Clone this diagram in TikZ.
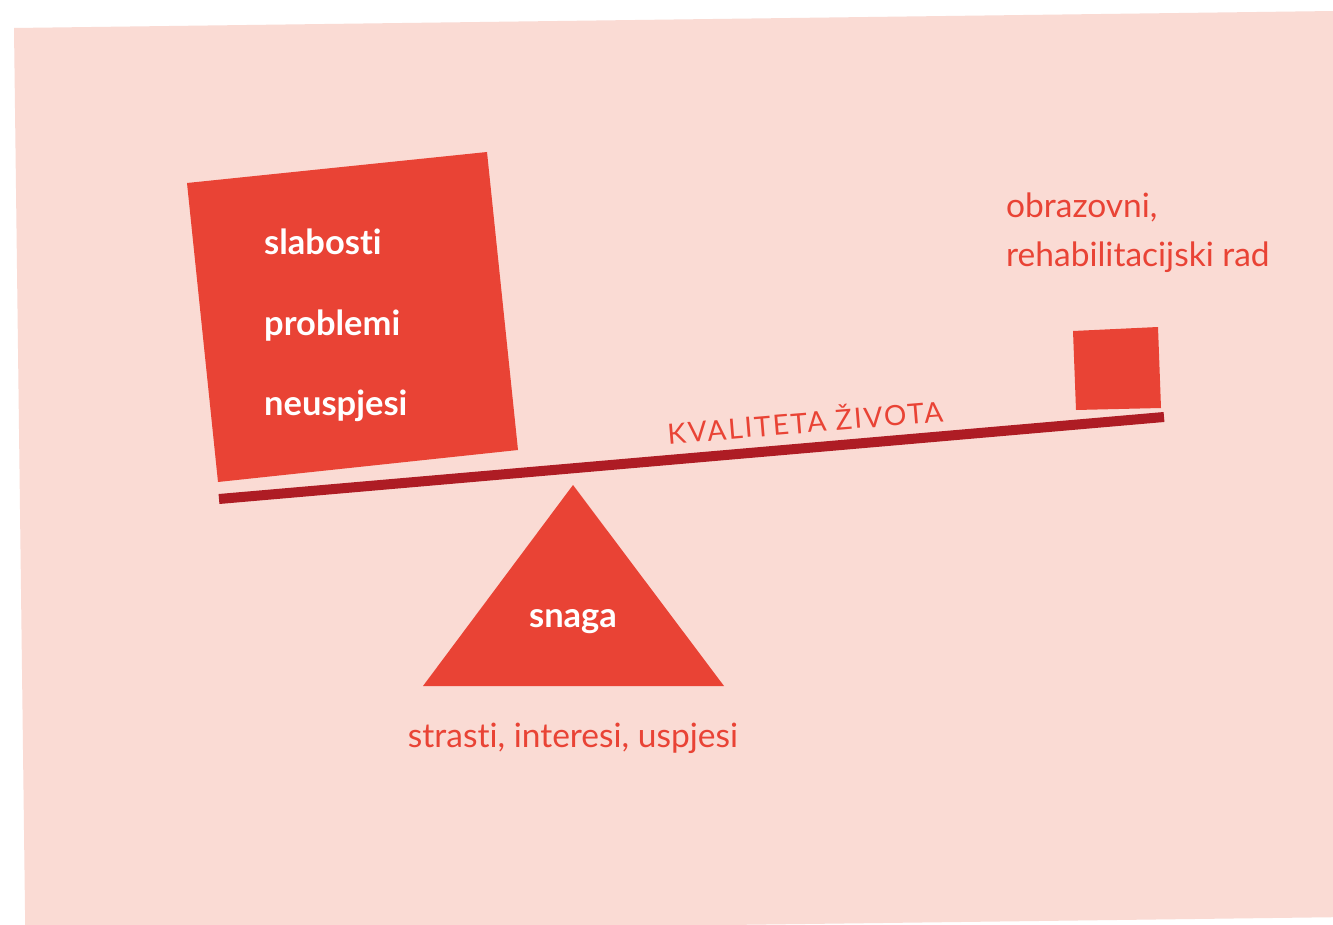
\documentclass[tikz,border=0pt]{standalone}
\usepackage{fontspec}
\setmainfont{Lato}[Ligatures=NoCommon]
\usepackage{tikz}
\definecolor{Blush}{RGB}{250,219,212}
\definecolor{Tomato}{RGB}{233,67,53}
\definecolor{Beam}{RGB}{174,28,36}
\tikzset{
  redlabel/.style={text=Tomato,inner sep=0pt,font=\fontsize{33.5}{40}\selectfont},
  whitelabel/.style={text=white,inner sep=0pt,font=\bfseries\fontsize{34.5}{42}\selectfont},
}

\begin{document}
\begin{tikzpicture}[x=1pt,y=-1pt]
\useasboundingbox (0,0) rectangle (1333,925);
\clip (0,0) rectangle (1333,925);
\fill[white] (0,0) rectangle (1333,925);
% tilted sheet
\fill[Blush] (14,28) -- (1350,10.8) -- (1350,917) -- (25.3,934) -- cycle;
% heavy weight on the left
\fill[Tomato] (187,183) -- (487,152) -- (518,450) -- (218,482) -- cycle;
\node[whitelabel,anchor=base west] (slab) at (264,255) {slabosti};
\node[whitelabel,anchor=base west] (prob) at (264,335) {problemi};
\node[whitelabel,anchor=base west] (neus) at (264,415) {neuspjesi};
% light weight on the right
\fill[Tomato] (1073,331) -- (1158,327) -- (1161,408) -- (1076,410) -- cycle;
\node[redlabel,anchor=base west] (obr1) at (1006,218) {obrazovni,};
\node[redlabel,anchor=base west] (obr2) at (1006,267) {rehabilitacijski rad};
% beam
\coordinate (beamL) at (219,499);
\coordinate (beamR) at (1164,417);
\draw[Beam,line width=10pt] (beamL) -- (beamR);
\node[text=Tomato,inner sep=0pt,anchor=base,rotate=4.7,
  font=\fontsize{28}{32}\selectfont\addfontfeature{LetterSpace=7}] (kval) at (806,433) {KVALITETA ŽIVOTA};
% fulcrum
\fill[Tomato] (573,485) -- (724,686) -- (423,686) -- cycle;
\node[whitelabel,anchor=base] (snaga) at (573,627) {snaga};
\node[redlabel,anchor=base] (stra) at (573,747) {strasti, interesi, uspjesi};
\end{tikzpicture}
\end{document}
